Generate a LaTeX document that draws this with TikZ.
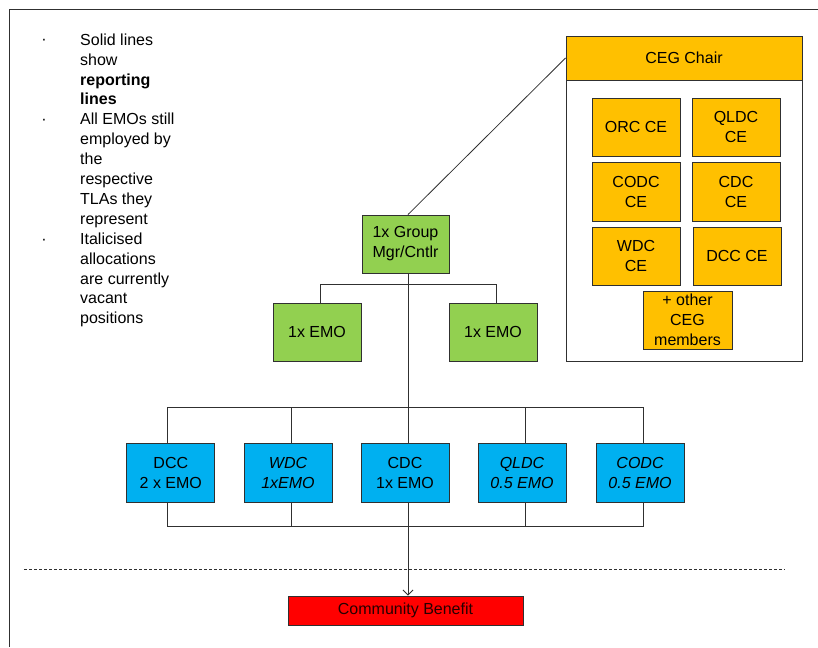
\documentclass[tikz,border=0pt]{standalone}
\usepackage{fontspec}
\setmainfont{Liberation Sans}
\usetikzlibrary{arrows.meta,backgrounds}
\definecolor{grn}{HTML}{92D050}
\definecolor{org}{HTML}{FFC000}
\definecolor{blu}{HTML}{00B0F0}
\definecolor{rd}{HTML}{FF0000}
\definecolor{ln}{HTML}{303030}
\tikzset{
  box/.style={draw=ln, line width=0.9pt, inner sep=0pt, align=center,
    font=\fontsize{16}{20}\selectfont, text=black},
  gbox/.style={box, fill=grn, minimum width=88pt, minimum height=58pt},
  obox/.style={box, fill=org, minimum width=88pt, minimum height=58pt},
  bbox/.style={box, fill=blu, minimum width=88pt, minimum height=59pt},
  conn/.style={draw=ln, line width=0.8pt},
  legend/.style={inner sep=0pt, align=left, anchor=north west,
    font=\fontsize{16}{19.9}\selectfont},
  bul/.style={inner sep=0pt, anchor=base, font=\fontsize{16}{18}\selectfont}
}
\begin{document}
\begin{tikzpicture}[x=1pt,y=-1pt]
\useasboundingbox (0,0) rectangle (818,647);
% frame (only top and left visible)
\draw[ln, line width=1pt] (818,9.5) -- (9.5,9.5) -- (9.5,647);

% legend
\node[bul] (b1) at (44,45) {·};
\node[bul] (b2) at (44,124.6) {·};
\node[bul] (b3) at (44,244) {·};
\node[legend] (l1) at (80,33.5) {Solid lines\\show\\\textbf{reporting}\\\textbf{lines}};
\node[legend] (l2) at (80,113.1) {All EMOs still\\employed by\\the\\respective\\TLAs they\\represent};
\node[legend] (l3) at (80,232.5) {Italicised\\allocations\\are currently\\vacant\\positions};

% CEG group
\node[draw=ln, line width=0.9pt, fill=white, minimum width=236pt, minimum height=325pt, inner sep=0pt] (cegbox) at (684,198.5) {};
\node[box, fill=org, minimum width=236pt, minimum height=44pt] (chair) at (684,58) {CEG Chair};
\node[obox] (orc) at (636,127) {ORC CE};
\node[obox] (qldcce) at (736,127) {QLDC\\CE};
\node[obox, minimum height=59pt] (codcce) at (636,191.5) {CODC\\CE};
\node[obox, minimum height=59pt] (cdcce) at (736,191.5) {CDC\\CE};
\node[obox] (wdcce) at (636,256) {WDC\\CE};
\node[obox] (dccce) at (737,256) {DCC CE};
\node[obox, minimum width=89pt] (other) at (687.5,320) {+ other\\CEG\\members};

% green tree
\node[gbox, minimum width=87pt] (gm) at (405.5,244) {1x Group\\Mgr/Cntlr};
\node[gbox] (e1) at (317,332) {1x EMO};
\node[gbox] (e2) at (493,332) {1x EMO};

% blue row
\node[bbox] (dcc) at (170.8,472.5) {DCC\\2 x EMO};
\node[bbox] (wdc) at (288,472.5) {\itshape WDC\\\itshape 1xEMO};
\node[bbox] (cdc) at (405,472.5) {CDC\\1x EMO};
\node[bbox] (qldc) at (522,472.5) {\itshape QLDC\\\itshape 0.5 EMO};
\node[bbox] (codc) at (640,472.5) {\itshape CODC\\\itshape 0.5 EMO};

% community benefit
\node[box, fill=rd, minimum width=235pt, minimum height=29pt, text=black!85!red] (cb) at (405.5,610.5) {Community Benefit};

% dashed separator
\coordinate (dl) at (24,569);
\coordinate (dr) at (785,569);
\draw[ln, line width=0.8pt, dash pattern=on 3pt off 2pt] (dl) -- (dr);

\begin{scope}[on background layer]
  % connection points
  \coordinate (mtop) at ([xshift=2.5pt]gm.south);
  \coordinate (gtop) at ([xshift=2.5pt]gm.north);
  \coordinate (e1t) at ([xshift=3pt]e1.north);
  \coordinate (e2t) at ([xshift=3pt]e2.north);
  \coordinate (dcct) at ([xshift=-3pt]dcc.north);
  \coordinate (dccb) at ([xshift=-3pt]dcc.south);
  \coordinate (wdct) at ([xshift=3pt]wdc.north);
  \coordinate (wdcb) at ([xshift=3pt]wdc.south);
  \coordinate (qldct) at ([xshift=3.5pt]qldc.north);
  \coordinate (qldcb) at ([xshift=3.5pt]qldc.south);
  \coordinate (codct) at ([xshift=3pt]codc.north);
  \coordinate (codcb) at ([xshift=3pt]codc.south);
  % diagonal to CEG Chair
  \draw[conn] (gtop) -- (chair.west);
  % green bus
  \draw[conn] (e1t) -- ++(0,-18) -| (e2t);
  % main vertical with arrow
  \draw[conn, -{Straight Barb[length=5pt,width=10pt]}] (mtop) -- (mtop |- cb.north);
  % blue top and bottom buses
  \draw[conn] (dcct) -- ++(0,-35) -| (codct);
  \draw[conn] (wdct) -- ++(0,-35);
  \draw[conn] (qldct) -- ++(0,-35);
  \draw[conn] (dccb) -- ++(0,24) -| (codcb);
  \draw[conn] (wdcb) -- ++(0,24);
  \draw[conn] (qldcb) -- ++(0,24);
\end{scope}
\end{tikzpicture}
\end{document}
